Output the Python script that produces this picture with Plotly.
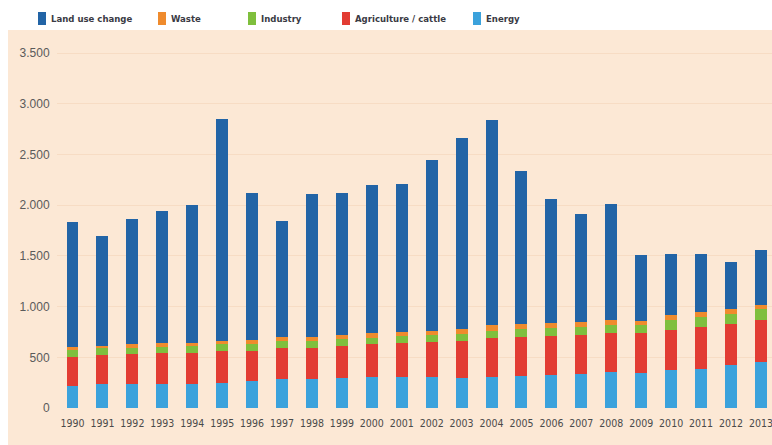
import plotly.graph_objects as go

# Emissions by source, 1990-2013 (stacked bars)
years = [str(y) for y in range(1990, 2014)]

energy = [220, 233, 237, 237, 237, 243, 266, 286, 286, 293, 303, 309,
          303, 293, 309, 316, 322, 335, 352, 342, 375, 388, 421, 454]
agriculture = [286, 289, 292, 302, 308, 319, 299, 302, 309, 318, 325, 335,
               351, 371, 378, 387, 388, 385, 390, 394, 394, 408, 411, 417]
industry = [66, 66, 65, 65, 66, 69, 66, 76, 69, 66, 65, 66,
            63, 63, 72, 73, 76, 82, 79, 85, 99, 98, 95, 102]
waste = [26, 26, 34, 34, 33, 33, 39, 33, 39, 43, 49, 42,
         45, 52, 59, 52, 49, 43, 47, 37, 49, 52, 49, 45]
land_use = [1237, 1086, 1237, 1307, 1356, 2191, 1450, 1151, 1407, 1400, 1453, 1453,
            1683, 1886, 2024, 1509, 1225, 1070, 1144, 650, 601, 572, 467, 537]

y_ticks = [0, 500, 1000, 1500, 2000, 2500, 3000, 3500]
y_tick_labels = ["0", "500", "1.000", "1.500", "2.000", "2.500", "3.000", "3.500"]

legend_names = ["Land use change", "Waste", "Industry", "Agriculture / cattle", "Energy"]

C_LAND = "#2264a6"
C_WASTE = "#ef8b2d"
C_IND = "#7fbf3d"
C_AGRI = "#e23c33"
C_ENERGY = "#3ba2dc"
BG = "#fce8d5"

NARROW = "Liberation Sans Narrow, DejaVu Sans Condensed, Arial Narrow, sans-serif"

# Page geometry (pixels) used to place the decorations in paper coordinates
W_PX, H_PX = 772, 445
M_L, M_R, M_T, M_B = 57, 0, 38, 37
PW = W_PX - M_L - M_R
PH = H_PX - M_T - M_B


def px(x):
    return (x - M_L) / PW


def py(y):
    return (H_PX - M_B - y) / PH


fig = go.Figure()
series = [
    ("Energy", energy, C_ENERGY),
    ("Agriculture / cattle", agriculture, C_AGRI),
    ("Industry", industry, C_IND),
    ("Waste", waste, C_WASTE),
    ("Land use change", land_use, C_LAND),
]
for name, vals, col in series:
    fig.add_trace(go.Bar(x=years, y=vals, name=name, marker_color=col,
                         marker_line_width=0, showlegend=False))

shapes = [
    # peach panel behind the chart
    dict(type="rect", xref="paper", yref="paper", layer="below",
         x0=px(8), x1=px(772), y0=py(445), y1=py(30),
         fillcolor=BG, line_width=0),
]
annotations = []

# Legend row along the top
legend_colors = [C_LAND, C_WASTE, C_IND, C_AGRI, C_ENERGY]
legend_sq_x = [42, 162, 252, 346, 477]
for name, col, cx in zip(legend_names, legend_colors, legend_sq_x):
    shapes.append(dict(type="rect", xref="paper", yref="paper",
                       x0=px(cx - 4), x1=px(cx + 4), y0=py(25), y1=py(12),
                       fillcolor=col, line_width=0))
    annotations.append(dict(xref="paper", yref="paper", x=px(cx + 7), y=py(18.5),
                            text="<b>" + name + "</b>", showarrow=False,
                            xanchor="left", yanchor="middle",
                            font=dict(family=NARROW, size=9.5, color="#3a3a44")))

fig.update_layout(
    width=W_PX, height=H_PX,
    margin=dict(l=M_L, r=M_R, t=M_T, b=M_B),
    paper_bgcolor="white",
    plot_bgcolor="rgba(0,0,0,0)",
    barmode="stack",
    bargap=0.6,
    shapes=shapes,
    annotations=annotations,
    xaxis=dict(
        type="category",
        range=[-0.518, 23.37],
        showgrid=False, zeroline=False, showline=False,
        ticks="outside", ticklen=5, tickcolor="rgba(0,0,0,0)",
        tickfont=dict(family=NARROW, size=10.5, color="#4a4a4a"),
    ),
    yaxis=dict(
        range=[0, 3650],
        tickvals=y_ticks, ticktext=y_tick_labels,
        showgrid=True, gridcolor="#f7dcc4", gridwidth=1,
        zeroline=False, showline=False,
        ticks="outside", ticklen=4, tickcolor="rgba(0,0,0,0)",
        tickfont=dict(family="Liberation Sans, Arial, sans-serif", size=12, color="#5a5a5a"),
    ),
)

fig.write_html("out.html")
